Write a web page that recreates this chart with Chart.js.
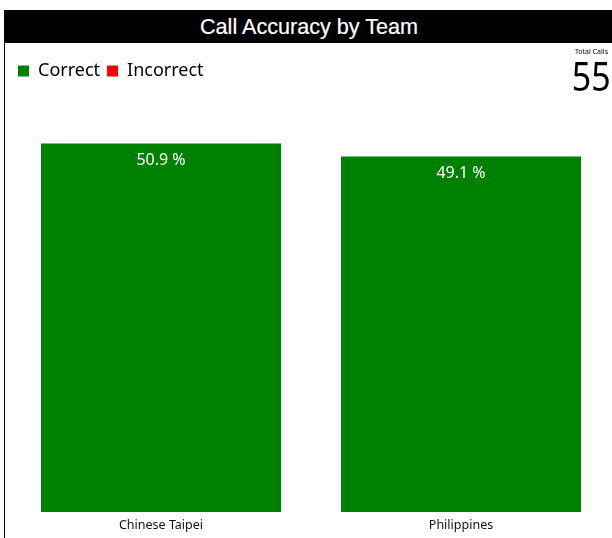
<!DOCTYPE html>
<html>
<head>
<meta charset="utf-8">
<script src="https://cdn.jsdelivr.net/npm/chart.js@4.4.1/dist/chart.umd.min.js"></script>
<style>
  body { margin: 0; background: #fff; width: 612px; height: 538px; overflow: hidden; position: relative; }
  #frame { position: absolute; left: 4px; top: 10px; width: 608px; height: 528px; border-left: 1px solid #000; }
  #title { position: absolute; left: 0; top: 0; width: 608px; height: 33px; background: #000; color: #fff;
           font: 21.6px "Liberation Sans", Arial, sans-serif; text-align: center; line-height: 33px; -webkit-text-stroke: 0.2px #fff; }
  #total { position: absolute; right: 2px; top: 38px; text-align: right; font-family: "Noto Sans", sans-serif; color: #000; }
  #total .lbl { font-size: 7px; line-height: 8px; margin-right: 3px; }
  #total .num { font-size: 40px; line-height: 40px; transform: scaleX(0.85); transform-origin: right; }
  #wrap { position: absolute; left: 1px; top: 33px; width: 607px; height: 495px; }
</style>
</head>
<body>
<div id="frame">
  <div id="title">Call Accuracy by Team</div>
  <div id="wrap"><canvas id="myChart" width="607" height="495"></canvas></div>
  <div id="total"><div class="lbl">Total Calls</div><div class="num">55</div></div>
</div>
<script>
var teams = ['Chinese Taipei', 'Philippines'];
var correctPct = [50.9, 49.1];
var incorrectPct = [0, 0];
var totalCalls = 55;

var barLabels = {
  id: 'barLabels',
  afterDatasetsDraw: function(chart) {
    var ctx = chart.ctx;
    var meta = chart.getDatasetMeta(0);
    ctx.save();
    ctx.fillStyle = '#fff';
    ctx.font = '16px "Noto Sans", sans-serif';
    ctx.textAlign = 'center';
    ctx.textBaseline = 'middle';
    meta.data.forEach(function(bar, i) {
      ctx.fillText(correctPct[i].toFixed(1) + ' %', bar.x, bar.y + 17);
    });
    ctx.restore();
  }
};

var ctxx = document.getElementById('myChart');
var myChartt = new Chart(ctxx, {
  type: 'bar',
  data: {
    labels: teams,
    datasets: [{
      label: 'Correct',
      data: correctPct,
      backgroundColor: 'rgb(0, 128, 0)',
      borderWidth: 0
    }, {
      label: 'Incorrect',
      data: incorrectPct,
      backgroundColor: 'rgb(255, 0, 0)',
      borderWidth: 0
    }]
  },
  options: {
    responsive: false,
    animation: false,
    layout: { padding: { left: 5, right: 2, top: 12, bottom: -1 } },
    plugins: {
      legend: {
        display: true,
        position: 'top',
        align: 'start',
        labels: {
          color: '#000',
          boxWidth: 11,
          boxHeight: 11,
          padding: 7,
          font: { family: '"Noto Sans", sans-serif', size: 18 }
        }
      },
      tooltip: { enabled: false }
    },
    scales: {
      x: {
        stacked: true,
        grid: { display: false, drawTicks: false, tickLength: 0 },
        border: { display: false },
        ticks: { color: '#111', padding: 6, font: { family: '"Noto Sans", sans-serif', size: 12.5 } }
      },
      y: {
        stacked: true,
        display: false,
        min: 0,
        max: 58.3
      }
    },
    datasets: { bar: { categoryPercentage: 0.8, barPercentage: 1 } }
  },
  plugins: [barLabels]
});
</script>
</body>
</html>
